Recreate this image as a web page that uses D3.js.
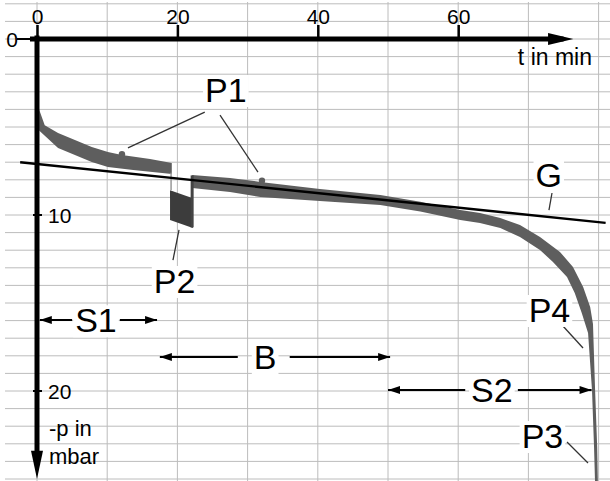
<!DOCTYPE html>
<html>
<head>
<meta charset="utf-8">
<script src="https://cdn.jsdelivr.net/npm/d3@7"></script>
<style>
  body { margin: 0; background: #fff; }
  svg { display: block; font-family: "Liberation Sans", Arial, sans-serif; }
</style>
</head>
<body>
<div id="chart"></div>
<script>
// pressure trace, [t in min, -p in mbar]
const startUpper = [[0.3, 4.0], [1.1, 4.9], [3.0, 5.34], [5.4, 5.74], [7.8, 6.14], [10.1, 6.42], [12.1, 6.59], [16.1, 6.82], [19.2, 7.05]];
const startLower = [[0.3, 5.2], [3.0, 6.19], [5.4, 6.59], [7.8, 6.99], [10.1, 7.27], [13.7, 7.44], [19.2, 7.67]];

const p2Upper = [[18.95, 8.6], [22.2, 9.05]];
const p2Lower = [[18.95, 10.28], [22.2, 10.74]];

const mainUpper = [[22.1, 7.73], [27.5, 7.9], [31.8, 8.12], [40.3, 8.52], [48.9, 8.86], [54.6, 9.25], [60.3, 9.72],
  [63.1, 9.89], [66.0, 10.17], [68.8, 10.57], [71.65, 11.25], [74.5, 12.1], [76.35, 12.95], [77.8, 14.09],
  [78.8, 15.23], [79.2, 16.2], [79.5, 19.94], [79.8, 23.18], [79.9, 25.3]];
const mainLower = [[22.1, 8.47], [27.5, 8.7], [31.8, 8.98], [40.3, 9.2], [48.9, 9.43], [54.6, 9.8], [60.3, 10.28],
  [63.1, 10.45], [66.0, 10.74], [68.8, 11.25], [71.65, 11.99], [73.5, 12.67], [75.5, 13.52], [76.6, 14.43],
  [77.6, 15.57], [78.5, 16.7], [79.06, 19.94], [79.35, 23.18], [79.5, 25.3]];

// vertical jumps of the pen: [t, from p, to p]
const jumps = [[19.1, 7.6, 8.6], [22.1, 7.75, 10.7]];
// small spikes P1
const p1Marks = [[12.1, 6.55], [32.05, 8.05]];
// straight line G
const gLine = [[-2.4, 7.0], [81, 10.45]];

const xTicks = [0, 20, 40, 60];
const yTicks = [0, 10, 20];
const gridT = d3.range(0, 90, 10);
const gridP = d3.range(-2, 26, 1);

const labels = [
  { text: "P1", t: 26.9, p: 3.58 },
  { text: "P2", t: 19.6, p: 14.43 },
  { text: "P4", t: 73.0, p: 16.08 },
  { text: "P3", t: 72.0, p: 23.24 },
  { text: "G", t: 72.9, p: 8.41 }
];
const leaders = [
  [[23.9, 4.15], [12.96, 6.19]],
  [[26.07, 4.32], [31.48, 7.56]],
  [[20.23, 10.85], [19.37, 12.56]],
  [[74.79, 16.25], [77.78, 17.56]],
  [[75.5, 22.9], [78.49, 24.09]],
  [[73.36, 8.75], [72.93, 9.72]]
];
const spans = [
  { text: "S1", p: 15.97, from: 0.4, to: 17.1, gapFrom: 5.0, gapTo: 11.8, at: 8.4 },
  { text: "B", p: 18.07, from: 17.5, to: 50.3, gapFrom: 28.6, gapTo: 36.0, at: 32.5 },
  { text: "S2", p: 19.94, from: 50.0, to: 79.0, gapFrom: 61.0, gapTo: 68.5, at: 64.8 }
];

const WIDTH = 610;
const HEIGHT = 481;
const BAND = "#5e5e5e";

const x = d3.scaleLinear().domain([0, 80]).range([37, 598.6]);
const y = d3.scaleLinear().domain([0, 25]).range([39, 479]);

const svg = d3.select("#chart").append("svg")
  .attr("width", WIDTH).attr("height", HEIGHT);

// paper grid
svg.append("g").selectAll("line").data(gridP).join("line")
  .attr("x1", 5).attr("x2", WIDTH)
  .attr("y1", d => y(d)).attr("y2", d => y(d))
  .attr("stroke", "#bcbcbc").attr("stroke-width", 1);
svg.append("g").selectAll("line").data(gridT).join("line")
  .attr("x1", d => x(d)).attr("x2", d => x(d))
  .attr("y1", 2).attr("y2", HEIGHT)
  .attr("stroke", "#bcbcbc").attr("stroke-width", 1);

const line = d3.line().x(d => x(d[0])).y(d => y(d[1]));
const band = (up, low) => line(up.concat(low.slice().reverse())) + "Z";

// trace
svg.append("path").attr("d", band(startUpper, startLower)).attr("fill", BAND);
svg.append("path").attr("d", band(mainUpper, mainLower)).attr("fill", BAND);
svg.append("path").attr("d", band(p2Upper, p2Lower)).attr("fill", "#3c3c3c");
svg.append("g").selectAll("line").data(jumps).join("line")
  .attr("x1", d => x(d[0])).attr("x2", d => x(d[0]))
  .attr("y1", d => y(d[1])).attr("y2", d => y(d[2]))
  .attr("stroke", (d, i) => i ? "#444" : "#999")
  .attr("stroke-width", (d, i) => i ? 3 : 1.5);
svg.append("g").selectAll("circle").data(p1Marks).join("circle")
  .attr("cx", d => x(d[0])).attr("cy", d => y(d[1]))
  .attr("r", 3.2).attr("fill", BAND);

// G
svg.append("path").attr("d", line(gLine))
  .attr("fill", "none").attr("stroke", "#000").attr("stroke-width", 2.4);

// axes
svg.append("line")
  .attr("x1", x(-1)).attr("x2", x(75)).attr("y1", y(0)).attr("y2", y(0))
  .attr("stroke", "#000").attr("stroke-width", 5);
svg.append("path")
  .attr("d", `M${x(76.4)},${y(0)} L${x(72.8)},${y(0) - 6} L${x(72.8)},${y(0) + 6} Z`)
  .attr("fill", "#000");
svg.append("line")
  .attr("x1", x(0)).attr("x2", x(0)).attr("y1", y(-0.2)).attr("y2", y(24))
  .attr("stroke", "#000").attr("stroke-width", 5);
svg.append("path")
  .attr("d", `M${x(0)},${y(25)} L${x(0) - 6},${y(23.4)} L${x(0) + 6},${y(23.4)} Z`)
  .attr("fill", "#000");

const xAxis = d3.axisTop(x).tickValues(xTicks).tickSize(14).tickPadding(1).tickSizeOuter(0);
const gx = svg.append("g").attr("transform", `translate(0,${y(0)})`).call(xAxis);
gx.select(".domain").remove();
gx.selectAll(".tick line").attr("stroke", "#000").attr("stroke-width", 2.5);
gx.selectAll(".tick text").attr("font-size", 21).attr("fill", "#000")
  .attr("font-family", "Liberation Sans, Arial, sans-serif");

const gy = svg.append("g");
gy.selectAll("line").data(yTicks).join("line")
  .attr("x1", d => d === 0 ? 17 : x(0) - 4).attr("x2", d => d === 0 ? x(0) : x(0) + 5)
  .attr("y1", d => y(d)).attr("y2", d => y(d))
  .attr("stroke", "#000").attr("stroke-width", 2);
gy.selectAll("text").data(yTicks).join("text")
  .attr("x", d => d === 0 ? 12 : x(0) + 11)
  .attr("y", d => y(d)).attr("dy", "0.36em")
  .attr("text-anchor", d => d === 0 ? "middle" : "start")
  .attr("font-size", 21)
  .text(d => d);

svg.append("text").attr("x", 592).attr("y", 65).attr("text-anchor", "end")
  .attr("font-size", 23).text("t in min");
svg.append("text").attr("x", 49).attr("y", 436).attr("font-size", 22).text("-p in");
svg.append("text").attr("x", 49).attr("y", 464).attr("font-size", 22).text("mbar");

// leader lines
svg.append("g").selectAll("path").data(leaders).join("path")
  .attr("d", d => line(d))
  .attr("stroke", "#333").attr("stroke-width", 1.3).attr("fill", "none");

function arrowHead(g, tx, ty, dir) {
  g.append("path")
    .attr("d", `M${tx},${ty} L${tx - dir * 12},${ty - 4} L${tx - dir * 12},${ty + 4} Z`)
    .attr("fill", "#000");
}

// span arrows S1, B, S2
spans.forEach(s => {
  const g = svg.append("g");
  const py = y(s.p);
  g.append("line").attr("x1", x(s.from)).attr("x2", x(s.gapFrom))
    .attr("y1", py).attr("y2", py).attr("stroke", "#000").attr("stroke-width", 2);
  g.append("line").attr("x1", x(s.gapTo)).attr("x2", x(s.to))
    .attr("y1", py).attr("y2", py).attr("stroke", "#000").attr("stroke-width", 2);
  arrowHead(g, x(s.from), py, -1);
  arrowHead(g, x(s.to), py, 1);
  const bg = g.append("rect").attr("fill", "#fff");
  const t = g.append("text").attr("x", x(s.at)).attr("y", py).attr("dy", "0.36em")
    .attr("text-anchor", "middle").attr("font-size", 34).text(s.text);
  const b = t.node().getBBox();
  bg.attr("x", b.x - 2).attr("y", b.y + 4).attr("width", b.width + 4).attr("height", b.height - 6);
});

// point labels
labels.forEach(l => {
  const g = svg.append("g");
  const bg = g.append("rect").attr("fill", "#fff");
  const t = g.append("text").attr("x", x(l.t)).attr("y", y(l.p))
    .attr("text-anchor", "middle").attr("font-size", 34).text(l.text);
  const b = t.node().getBBox();
  bg.attr("x", b.x - 2).attr("y", b.y + 4).attr("width", b.width + 4).attr("height", b.height - 6);
});
</script>
</body>
</html>
